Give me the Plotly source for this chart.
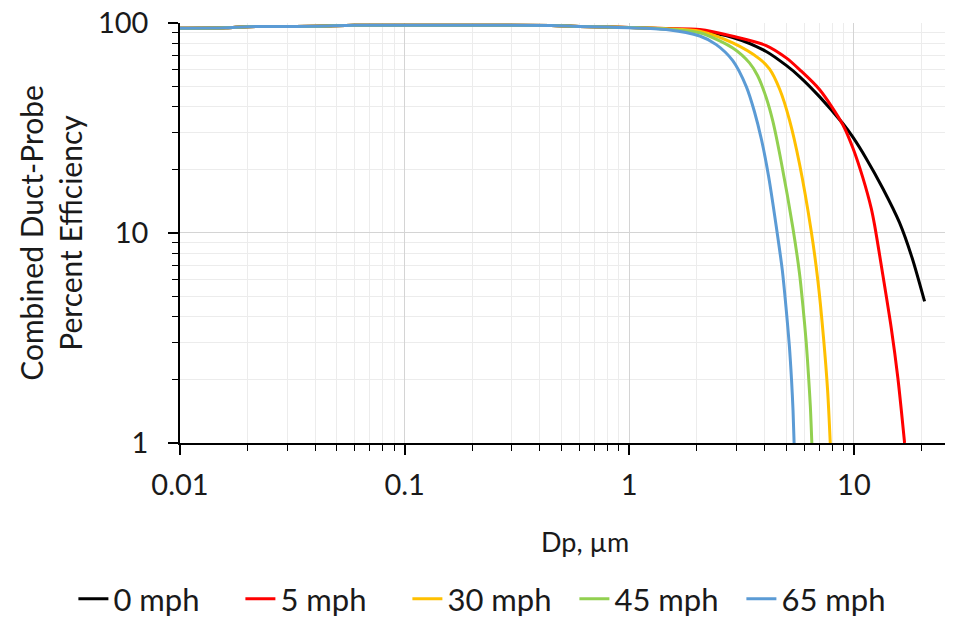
import plotly.graph_objects as go

# ---- data ----
flat_dp = [0.01, 0.016, 0.02, 0.04, 0.06, 0.2, 0.45, 0.6, 0.8]
flat_eff = [94.5, 95.0, 96.0, 96.5, 97.5, 97.6, 97.3, 96.3, 95.6]

dp_0mph = [1.0, 1.46, 2.06, 2.89, 4.07, 5.0, 5.73, 7.03, 8.93, 9.9, 11.36, 13.46, 15.97, 18.16, 20.64]
eff_0mph = [95.2, 93.8, 91.6, 85.3, 73.2, 62.8, 55.6, 44.6, 33.2, 28.6, 22.6, 16.3, 11.2, 7.62, 4.72]

dp_5mph = [1.0, 1.46, 2.06, 2.89, 4.07, 5.0, 5.73, 7.03, 8.93, 9.9, 10.97, 11.95, 12.37, 13.46, 14.67, 15.7, 16.82]
eff_5mph = [95.2, 94.1, 93.1, 86.5, 78.1, 68.2, 60.0, 48.2, 32.8, 25.4, 18.3, 13.1, 10.9, 6.31, 3.53, 2.04, 1.0]

dp_30mph = [1.0, 1.46, 2.06, 2.89, 3.80, 4.21, 4.67, 5.17, 5.73, 6.46, 6.92, 7.33, 7.64, 7.85]
eff_30mph = [95.2, 94.0, 91.4, 80.4, 67.5, 60.5, 48.5, 34.5, 21.3, 10.2, 5.89, 3.15, 1.78, 1.0]

dp_45mph = [1.0, 1.46, 2.06, 2.89, 3.43, 3.73, 4.07, 4.36, 4.75, 5.35, 5.73, 5.93, 6.14, 6.28, 6.40, 6.50]
eff_45mph = [95.2, 93.6, 89.8, 76.1, 64.6, 56.1, 44.2, 34.0, 21.8, 10.6, 6.40, 4.51, 2.99, 2.10, 1.50, 1.0]

dp_65mph = [1.0, 1.46, 2.06, 2.44, 2.89, 3.32, 3.61, 3.88, 4.17, 4.51, 4.80, 5.0, 5.16, 5.28, 5.36, 5.42]
eff_65mph = [95.0, 93.1, 86.7, 78.9, 66.2, 49.8, 37.8, 27.8, 18.7, 10.8, 6.67, 4.30, 2.92, 1.99, 1.43, 1.0]

series_names = ["0 mph", "5 mph", "30 mph", "45 mph", "65 mph"]
series_colors = ["#000000", "#FF0000", "#FFC000", "#92D050", "#5B9BD5"]
series_dp = [dp_0mph, dp_5mph, dp_30mph, dp_45mph, dp_65mph]
series_eff = [eff_0mph, eff_5mph, eff_30mph, eff_45mph, eff_65mph]

x_tickvals = [0.01, 0.1, 1, 10]
x_ticktext = ["0.01", "0.1", "1", "10"]
y_tickvals = [1, 10, 100]
y_ticktext = ["1", "10", "100"]

x_minor = [m * 10 ** k for k in range(-2, 2) for m in range(2, 10)]
y_minor = [m * 10 ** k for k in range(0, 2) for m in range(2, 10)]

FONT = "Lato"
TXT = "#1a1a1a"

fig = go.Figure()
for name, col, xs, ys in zip(series_names, series_colors, series_dp, series_eff):
    fig.add_trace(go.Scatter(
        x=flat_dp + xs, y=flat_eff + ys, mode="lines", name=name,
        line=dict(color=col, width=3, shape="spline", smoothing=0.8),
    ))

axis_common = dict(
    type="log", showline=True, linecolor="black", linewidth=1.5,
    ticks="outside", ticklen=10, tickwidth=1.5, tickcolor="black",
    showgrid=True, gridcolor="#D4D4D4", gridwidth=1, zeroline=False,
    automargin=False, ticklabeloverflow="allow",
    tickfont=dict(family=FONT, size=29, color=TXT),
)

# figure is 945x618 (page body adds an 8px offset); plot area placed with axis domains
fig.update_xaxes(
    **axis_common,
    domain=[0.18201, 0.99683],
    range=[-2, 1.428], tickmode="array", tickvals=x_tickvals, ticktext=x_ticktext,
    ticklabelstandoff=5,
    minor=dict(tickmode="array", tickvals=x_minor, ticks="outside", ticklen=6,
               tickwidth=1.2, tickcolor="black", showgrid=True, gridcolor="#ECECEC", gridwidth=1),
)
fig.update_yaxes(
    **axis_common,
    domain=[0.29612, 0.97573],
    range=[0, 2], tickmode="array", tickvals=y_tickvals, ticktext=y_ticktext,
    ticklabelstandoff=14,
    minor=dict(tickmode="array", tickvals=y_minor, ticks="outside", ticklen=6,
               tickwidth=1.2, tickcolor="black", showgrid=True, gridcolor="#ECECEC", gridwidth=1),
    title=dict(text="Combined Duct-Probe<br>Percent Efficiency",
               font=dict(family=FONT, size=30, color=TXT), standoff=6),
)

fig.add_annotation(
    text="Dp, µm", xref="paper", yref="paper", x=0.6106, y=0.1375,
    xanchor="center", yanchor="middle", showarrow=False,
    font=dict(family=FONT, size=27, color=TXT),
)

fig.update_layout(
    width=945, height=618,
    margin=dict(l=0, r=0, t=0, b=0),
    paper_bgcolor="white", plot_bgcolor="white",
    showlegend=True,
    legend=dict(orientation="h", xref="paper", yref="paper",
                x=0.511, xanchor="center", y=0.0, yanchor="bottom",
                font=dict(family=FONT, size=31, color=TXT), itemwidth=30,
                entrywidth=122, entrywidthmode="pixels",
                bgcolor="rgba(0,0,0,0)"),
)

fig.write_html("out.html")
